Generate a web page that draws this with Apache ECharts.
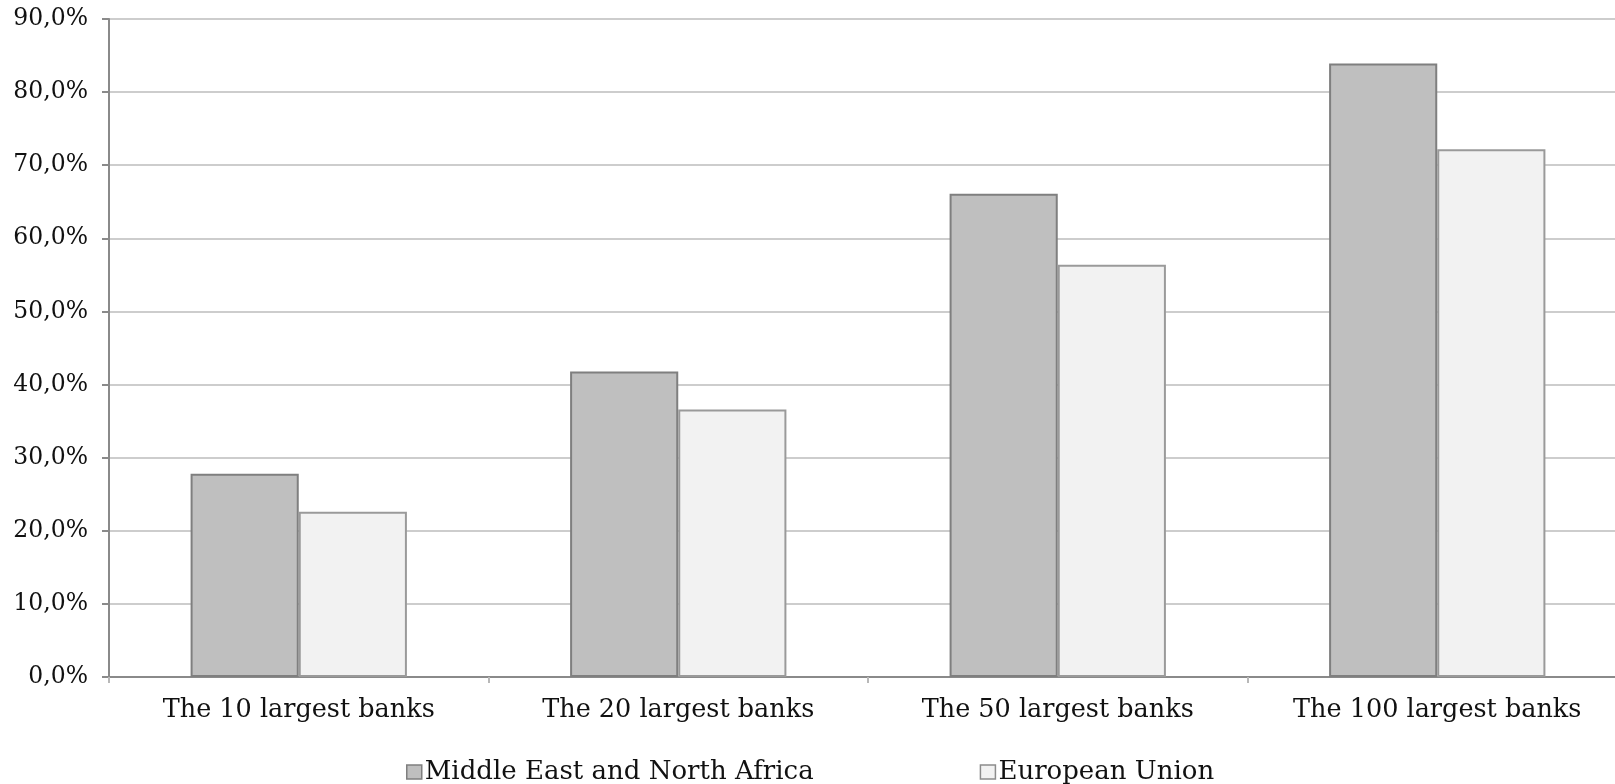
<!DOCTYPE html>
<html>
<head>
<meta charset="utf-8">
<script src="https://cdn.jsdelivr.net/npm/echarts@6/dist/echarts.min.js"></script>
<style>
html,body{margin:0;padding:0;background:#fff;}
#chart{width:1615px;height:784px;}
</style>
</head>
<body>
<div id="chart"></div>
<script>
const categories = ['The 10 largest banks', 'The 20 largest banks', 'The 50 largest banks', 'The 100 largest banks'];
const menaValues = [27.8, 41.8, 66.1, 83.9];
const euValues = [22.6, 36.6, 56.4, 72.2];
const seriesNames = ['Middle East and North Africa', 'European Union'];

const FONT = 'DejaVu Serif';
const chart = echarts.init(document.getElementById('chart'), null, {renderer: 'canvas'});
chart.setOption({
  animation: false,
  backgroundColor: '#ffffff',
  grid: {left: 109, top: 19, right: -12, height: 658, containLabel: false, outerBoundsMode: 'none'},
  legend: {
    data: [
      {name: seriesNames[0], itemStyle: {color: '#bfbfbf', borderColor: '#7f7f7f', borderWidth: 1.5}},
      {name: seriesNames[1], itemStyle: {color: '#f2f2f2', borderColor: '#8c8c8c', borderWidth: 1.5}}
    ],
    left: 401, top: 754,
    icon: 'rect', itemWidth: 15, itemHeight: 14, itemGap: 166,
    textStyle: {fontFamily: FONT, fontSize: 26, color: '#111', padding: [0, 0, 0, -2]}
  },
  xAxis: {
    type: 'category',
    data: categories,
    axisLine: {lineStyle: {color: '#8a8a8a', width: 2}},
    axisTick: {show: true, length: 6, lineStyle: {color: '#b8b8b8', width: 2}},
    axisLabel: {fontFamily: FONT, fontSize: 25.5, color: '#111', margin: 20, interval: 0}
  },
  yAxis: {
    type: 'value',
    min: 0, max: 90, interval: 10,
    axisLine: {show: true, lineStyle: {color: '#8a8a8a', width: 2}},
    axisTick: {show: true, length: 7, lineStyle: {color: '#8a8a8a', width: 2}},
    splitLine: {lineStyle: {color: '#bcbcbc', width: 1.6}},
    axisLabel: {
      fontFamily: FONT, fontSize: 23.5, color: '#111', margin: 21,
      formatter: v => v.toFixed(1).replace('.', ',') + '%'
    }
  },
  series: [
    {
      name: seriesNames[0], type: 'bar', data: menaValues,
      barGap: '0%', barCategoryGap: '43%',
      itemStyle: {color: '#bfbfbf', borderColor: '#7f7f7f', borderWidth: 2}
    },
    {
      name: seriesNames[1], type: 'bar', data: euValues,
      barGap: '0%', barCategoryGap: '43%',
      itemStyle: {color: '#f2f2f2', borderColor: '#9a9a9a', borderWidth: 2}
    }
  ]
});
</script>
</body>
</html>
